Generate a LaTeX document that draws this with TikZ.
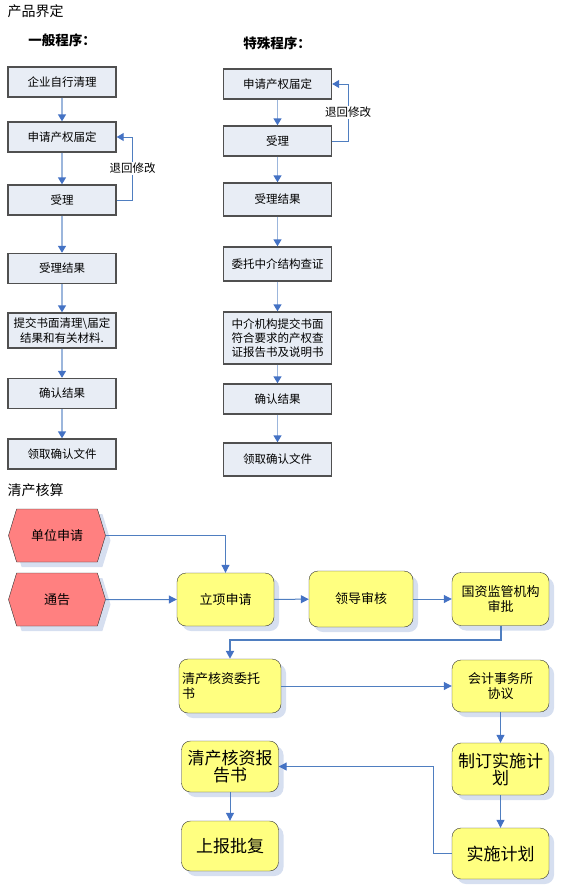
\documentclass[tikz,border=0pt]{standalone}
\usepackage{fontspec}
\setmainfont{Noto Sans CJK SC}
\usetikzlibrary{arrows.meta,shapes.symbols,shadows}
\definecolor{boxfill}{HTML}{E8EDF5}
\definecolor{boxline}{HTML}{505050}
\definecolor{flowline}{HTML}{9CB6DC}
\definecolor{tipblue}{HTML}{4472C4}
\definecolor{loopline}{HTML}{4F7EC0}
\definecolor{hexfill}{HTML}{FF8080}
\definecolor{yfill}{HTML}{FFFF80}
\definecolor{shade}{HTML}{D6DFF0}
\tikzset{
  pbox/.style={draw=boxline, line width=1.4pt, fill=boxfill, minimum width=108pt,
    minimum height=30pt, inner sep=1pt, align=center, font=\fontsize{11.5}{14.3}\selectfont},
  hexa/.style={shape=signal, signal to=west and east, signal pointer angle=146,
    draw=black!80, fill=hexfill, minimum width=97pt, minimum height=53pt, inner sep=1pt,
    drop shadow={shadow xshift=5pt, shadow yshift=-5pt, fill=shade, opacity=1},
    font=\fontsize{13}{15}\selectfont},
  ybox/.style={draw=black!80, fill=yfill, rounded corners=9pt, minimum width=97pt,
    minimum height=53pt, inner sep=2pt, align=center,
    drop shadow={shadow xshift=5pt, shadow yshift=-5pt, fill=shade, opacity=1},
    font=\fontsize{13}{15}\selectfont},
  big/.style={font=\fontsize{17}{17}\selectfont},
  flow/.style={draw=flowline, line width=1.4pt, -{Triangle[width=8pt,length=7pt,color=tipblue]}},
  back/.style={draw=loopline, line width=1pt, -{Triangle[width=8pt,length=7pt,color=tipblue]}},
  link/.style={draw=loopline, line width=1pt, -{Triangle[width=8pt,length=8pt,color=tipblue]}}
}
\begin{document}
\begin{tikzpicture}[x=1pt,y=-1pt]
  \useasboundingbox (0,0) rectangle (562,894);
  % 产品界定
  \node[anchor=west, font=\fontsize{14}{14}\selectfont] (cpjd) at (4,11) {产品界定};
  \node[font=\fontsize{13.5}{14}\selectfont\bfseries] (ybcx) at (62,40) {一般程序：};
  \node[font=\fontsize{13.5}{14}\selectfont\bfseries] (tscx) at (277,43) {特殊程序：};

  % 一般程序
  \node[pbox] (qy) at (62,82) {企业自行清理};
  \node[pbox] (sq) at (62,137) {申请产权届定};
  \node[pbox] (sl) at (62,200) {受理};
  \node[pbox] (jg) at (62,268.5) {受理结果};
  \node[pbox, minimum height=35pt] (tj) at (62,330.5) {提交书面清理\textbackslash 届定\\结果和有关材料.};
  \node[pbox] (qr) at (62,393.5) {确认结果};
  \node[pbox] (lq) at (62,454) {领取确认文件};
  \draw[flow] (qy) -- (sq);
  \draw[flow] (sq) -- (sl);
  \draw[flow] (sl) -- (jg);
  \draw[flow] (jg) -- (tj);
  \draw[flow] (tj) -- (qr);
  \draw[flow] (qr) -- (lq);
  \draw[back] (sl.east) -- ++(16,0) |- node[pos=0.25, fill=white, inner sep=1pt,
    font=\fontsize{11.5}{12}\selectfont] {退回修改} (sq.east);

  % 特殊程序
  \node[pbox] (tsq) at (277.5,84) {申请产权届定};
  \node[pbox] (tsl) at (277.5,141) {受理};
  \node[pbox, minimum height=33pt] (tjg) at (277.5,199.5) {受理结果};
  \node[pbox, minimum height=34pt] (wt) at (277.5,264) {委托中介结构查证};
  \node[pbox, minimum height=52pt] (zj) at (277.5,338) {中介机构提交书面\\符合要求的产权查\\证报告书及说明书};
  \node[pbox] (tqr) at (277.5,399) {确认结果};
  \node[pbox, minimum height=33pt] (tlq) at (277.5,459.5) {领取确认文件};
  \draw[flow] (tsq) -- (tsl);
  \draw[flow] (tsl) -- (tjg);
  \draw[flow] (tjg) -- (wt);
  \draw[flow] (wt) -- (zj);
  \draw[flow] (zj) -- (tqr);
  \draw[flow] (tqr) -- (tlq);
  \draw[back] (tsl.east) -- ++(16,0) |- node[pos=0.25, fill=white, inner sep=1pt,
    font=\fontsize{11.5}{12}\selectfont] {退回修改} (tsq.east);

  % 清产核算
  \node[anchor=west, font=\fontsize{14}{14}\selectfont] (qchs) at (4,490) {清产核算};
  \node[hexa] (dwsq) at (57,535.5) {单位申请};
  \node[hexa] (tg) at (57,599.5) {通告};
  \node[ybox] (lxsq) at (225.5,599.5) {立项申请};
  \node[ybox, minimum width=104pt, minimum height=56pt] (ldsh) at (361,599) {领导审核};
  \node[ybox] (gzsp) at (500.5,599) {国资监管机构\\审批};
  \node[ybox, minimum width=102pt, minimum height=54pt, text width=96pt, align=left]
    (wts) at (230,686) {清产核资委托\\书};
  \node[ybox, minimum height=52pt] (kj) at (500.5,686) {会计事务所\\协议};
  \node[ybox, big, align=center, minimum height=52pt] (zd) at (500.5,769) {制订实施计\\划};
  \node[ybox, big, minimum height=51pt] (ss) at (500.5,853.5) {实施计划};
  \node[ybox, big, minimum height=51pt] (bgs) at (230,766.5) {清产核资报\\告书};
  \node[ybox, big, minimum height=50pt] (sb) at (230,846) {上报批复};
  \draw[link] (dwsq.east) -| (lxsq.north);
  \draw[link] (tg) -- (lxsq);
  \draw[link] (lxsq) -- (ldsh);
  \draw[link] (ldsh) -- (gzsp);
  \draw[link, line width=2pt] (gzsp.south) -- ++(0,14) -| (wts.north);
  \draw[link] (wts) -- (kj);
  \draw[link] (kj) -- (zd);
  \draw[link] (zd) -- (ss);
  \draw[link] (ss.west) -- ++(-18,0) |- (bgs.east);
  \draw[link] (bgs) -- (sb);
\end{tikzpicture}
\end{document}
